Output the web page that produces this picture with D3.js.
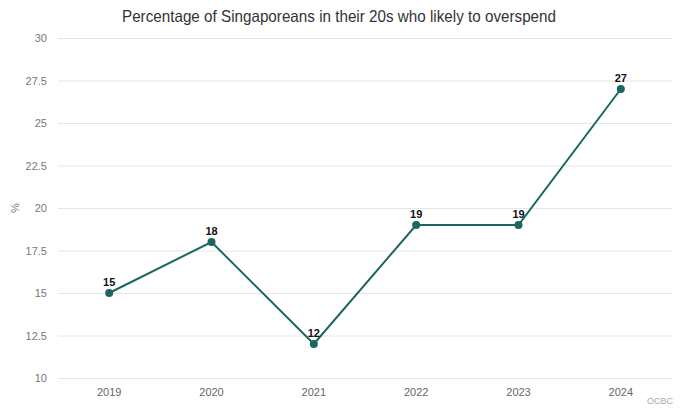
<!DOCTYPE html>
<html>
<head>
<meta charset="utf-8">
<script src="https://cdn.jsdelivr.net/npm/d3@7"></script>
<style>
  body { margin: 0; background: #fff; }
  svg { display: block; font-family: "Liberation Sans", Arial, sans-serif; }
</style>
</head>
<body>
<div id="chart"></div>
<script>
let years = ["2019", "2020", "2021", "2022", "2023", "2024"];
let values = [15, 18, 12, 19, 19, 27];
let yTicks = [10, 12.5, 15, 17.5, 20, 22.5, 25, 27.5, 30];

let W = 680, H = 408;
// plot area
let margin = {top: 38, right: 8, bottom: 30, left: 58},
    width = W - margin.left - margin.right,
    height = H - margin.top - margin.bottom;

let font = "'Liberation Sans', Arial, sans-serif";

let svg = d3.select("#chart").append("svg")
    .attr("width", W)
    .attr("height", H);

let x = d3.scaleBand().domain(years).range([0, width]).padding(0);
let y = d3.scaleLinear().domain([10, 30]).range([height, 0]);

let g = svg.append("g")
    .attr("transform", "translate(" + margin.left + "," + margin.top + ")");

// title (source font is narrower, squeeze to the same width)
svg.append("text")
    .attr("x", 339)
    .attr("y", 22)
    .attr("text-anchor", "middle")
    .attr("textLength", 434)
    .attr("lengthAdjust", "spacingAndGlyphs")
    .style("font-size", "16.5px")
    .style("fill", "#333")
    .text("Percentage of Singaporeans in their 20s who likely to overspend");

// gridlines + y labels
let yAxis = d3.axisLeft(y).tickValues(yTicks).tickSize(-width).tickPadding(11)
    .tickFormat(d => String(d));
let ya = g.append("g").call(yAxis);
ya.select(".domain").remove();
ya.selectAll(".tick line").attr("stroke", "#e6e6e6");
ya.selectAll(".tick text").style("font-size", "11px").style("fill", "#777")
    .style("font-family", font);

// y axis name
svg.append("text")
    .attr("transform", "translate(19," + (margin.top + y(20)) + ") rotate(-90)")
    .attr("text-anchor", "middle")
    .style("font-size", "11px")
    .style("fill", "#777")
    .text("%");

// x labels
let xa = g.append("g")
    .attr("transform", "translate(0," + height + ")")
    .call(d3.axisBottom(x).tickSize(0).tickPadding(10));
xa.select(".domain").remove();
xa.selectAll(".tick text").style("font-size", "11px").style("fill", "#666")
    .style("font-family", font);

let cx = d => x(d) + x.bandwidth() / 2;

// line
let line = d3.line()
    .x((d, i) => cx(years[i]))
    .y(d => y(d));
g.append("path")
    .datum(values)
    .attr("fill", "none")
    .attr("stroke", "#1b6661")
    .attr("stroke-width", 2)
    .attr("d", line);

// points
g.selectAll("circle")
    .data(values)
    .enter().append("circle")
    .attr("cx", (d, i) => cx(years[i]))
    .attr("cy", d => y(d))
    .attr("r", 4)
    .attr("fill", "#1b6661");

// value labels
g.selectAll(".val")
    .data(values)
    .enter().append("text")
    .attr("class", "val")
    .attr("x", (d, i) => cx(years[i]))
    .attr("y", d => y(d) - 7)
    .attr("text-anchor", "middle")
    .style("font-size", "11px")
    .style("font-weight", "bold")
    .style("fill", "#111")
    .text(d => d);

// source
svg.append("text")
    .attr("x", 673)
    .attr("y", 404)
    .attr("text-anchor", "end")
    .style("font-size", "9px")
    .style("fill", "#aaa")
    .text("OCBC");
</script>
</body>
</html>
